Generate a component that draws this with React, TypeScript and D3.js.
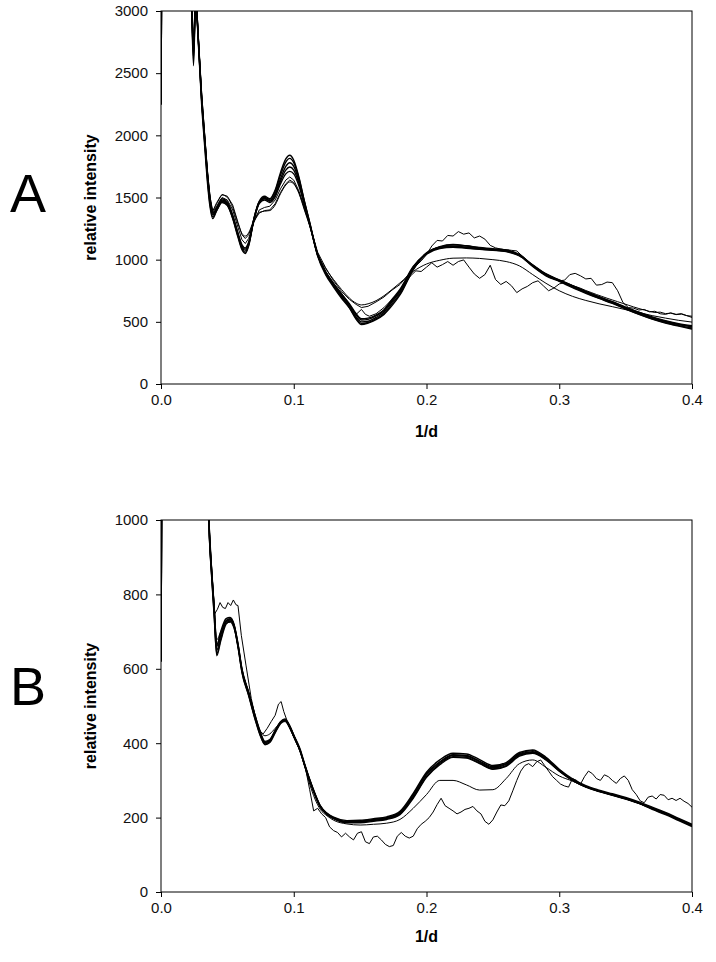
import { useEffect, useRef } from "react";
import * as d3 from "d3";

// ---------- panel A (top) ----------
const ticksA = [0, 500, 1000, 1500, 2000, 2500, 3000];
const xTicks = [0, 0.1, 0.2, 0.3, 0.4];

const gridA = [
  0, 0.001, 0.002, 0.022, 0.0245, 0.0262, 0.027,
  0.0306, 0.033, 0.035, 0.037, 0.039,
  0.042, 0.046, 0.05, 0.054, 0.058,
  0.061, 0.0635, 0.066, 0.07, 0.074,
  0.078, 0.082, 0.086, 0.09, 0.094,
  0.097, 0.1, 0.104, 0.108, 0.112,
  0.118, 0.124, 0.13, 0.136, 0.142,
  0.147, 0.151, 0.156, 0.162, 0.168,
  0.174, 0.18, 0.19, 0.2, 0.21,
  0.22, 0.23, 0.24, 0.25, 0.26,
  0.27, 0.28, 0.29, 0.3, 0.31,
  0.32, 0.33, 0.34, 0.35, 0.36,
  0.37, 0.38, 0.39, 0.4,
];

const a1 = [
  2250, 4500, 7000, 3500, 2560, 3150, 2980,
  2250, 1900, 1620, 1420, 1330,
  1400, 1470, 1440, 1330, 1180,
  1080, 1050, 1110, 1330, 1470,
  1510, 1490, 1560, 1700, 1810,
  1840, 1800, 1660, 1470, 1300,
  1030, 880, 780, 690, 610,
  520, 478, 490, 518, 560,
  630, 716, 918, 1050, 1100,
  1119, 1110, 1095, 1085, 1079,
  1040, 950, 877, 830, 780,
  735, 690, 652, 605, 562,
  525, 495, 470, 450,
];
const a2 = [
  2250, 4500, 7000, 3500, 2620, 3150, 2990,
  2280, 1930, 1650, 1440, 1345,
  1395, 1460, 1435, 1335, 1190,
  1090, 1060, 1115, 1320, 1460,
  1500, 1485, 1550, 1680, 1785,
  1815, 1780, 1650, 1470, 1300,
  1040, 890, 790, 700, 615,
  530, 488, 495, 525, 565,
  645, 725, 925, 1050, 1105,
  1122, 1112, 1098, 1088, 1075,
  1035, 945, 870, 825, 775,
  730, 688, 648, 602, 560,
  522, 490, 465, 442,
];
const a3 = [
  2250, 4500, 7000, 3500, 2680, 3150, 3000,
  2300, 1950, 1670, 1460, 1360,
  1400, 1470, 1445, 1345, 1200,
  1100, 1075, 1125, 1330, 1465,
  1495, 1475, 1530, 1650, 1750,
  1780, 1750, 1630, 1460, 1290,
  1040, 895, 795, 705, 625,
  540, 500, 505, 535, 578,
  660, 740, 935, 1055, 1100,
  1110, 1100, 1090, 1080, 1070,
  1040, 955, 880, 832, 785,
  740, 695, 655, 610, 568,
  530, 500, 478, 460,
];
const a4 = [
  2250, 4500, 7000, 3500, 2720, 3150, 3000,
  2320, 1970, 1690, 1480, 1375,
  1410, 1480, 1455, 1350, 1205,
  1110, 1085, 1130, 1325, 1460,
  1490, 1470, 1520, 1630, 1720,
  1745, 1720, 1610, 1450, 1285,
  1035, 900, 800, 715, 635,
  555, 515, 520, 548, 590,
  670, 750, 940, 1050, 1095,
  1105, 1095, 1085, 1078, 1068,
  1035, 958, 885, 835, 790,
  742, 700, 660, 615, 575,
  535, 505, 480, 462,
];
const a5 = [
  2250, 4500, 7000, 3500, 2650, 3150, 3000,
  2290, 1960, 1680, 1475, 1370,
  1420, 1490, 1465, 1360, 1215,
  1120, 1095, 1140, 1320, 1450,
  1480, 1460, 1505, 1610, 1690,
  1710, 1690, 1590, 1440, 1285,
  1040, 905, 810, 725, 645,
  565, 525, 530, 555, 598,
  680, 760, 945, 1045, 1090,
  1100, 1092, 1083, 1075, 1065,
  1030, 955, 885, 838, 792,
  745, 702, 662, 618, 578,
  540, 510, 485, 468,
];
const aLight = [
  2250, 4500, 7000, 3500, 2750, 3150, 3000,
  2350, 2000, 1720, 1510, 1400,
  1450, 1520, 1500, 1420, 1290,
  1210, 1190, 1215, 1320, 1380,
  1390, 1395, 1440, 1530, 1600,
  1625, 1610, 1530, 1400, 1270,
  1050, 930, 840, 760, 690,
  650, 636, 645, 670, 710,
  760, 813, 905, 965, 995,
  1012, 1014, 1010, 1000, 985,
  950, 880, 810, 750, 705,
  672, 645, 622, 598, 575,
  550, 530, 512, 498,
];

const aNoisyHigh: [number, number][] = [
  [0, 2250], [0.001, 4500], [0.002, 7000], [0.022, 3500], [0.0245, 2700], [0.0262, 3150], [0.027, 3000],
  [0.0306, 2330], [0.033, 1990], [0.035, 1710], [0.037, 1500], [0.039, 1390], [0.042, 1460], [0.046, 1525],
  [0.05, 1510], [0.054, 1440], [0.058, 1300], [0.061, 1200], [0.0635, 1170], [0.066, 1200], [0.07, 1310],
  [0.074, 1375], [0.078, 1395], [0.082, 1400], [0.086, 1450], [0.09, 1540], [0.094, 1610], [0.097, 1640],
  [0.1, 1620], [0.104, 1540], [0.108, 1410], [0.112, 1280], [0.118, 1060], [0.124, 935], [0.13, 830],
  [0.136, 745], [0.142, 680], [0.147, 640], [0.151, 615], [0.156, 625], [0.162, 660], [0.168, 700],
  [0.174, 755], [0.18, 800], [0.184, 850], [0.188, 900], [0.192, 950], [0.196, 990], [0.2, 1040],
  [0.204, 1110], [0.208, 1155], [0.212, 1150], [0.216, 1195], [0.22, 1190], [0.224, 1226], [0.228, 1205],
  [0.232, 1215], [0.236, 1175], [0.24, 1190], [0.244, 1165], [0.248, 1115], [0.252, 1095], [0.256, 1085],
  [0.26, 1080], [0.264, 1075], [0.268, 1070], [0.272, 1030], [0.276, 990], [0.28, 950], [0.284, 915],
  [0.288, 885], [0.292, 860], [0.296, 845], [0.3, 830], [0.304, 835], [0.308, 880], [0.312, 890],
  [0.316, 870], [0.32, 845], [0.324, 850], [0.328, 795], [0.332, 800], [0.336, 820], [0.34, 815],
  [0.344, 750], [0.348, 655], [0.352, 615], [0.356, 610], [0.36, 595], [0.364, 600], [0.368, 580],
  [0.372, 585], [0.376, 565], [0.38, 560], [0.384, 572], [0.388, 560], [0.392, 566], [0.396, 550], [0.4, 535],
];

const aNoisyLow: [number, number][] = [
  [0, 2250], [0.001, 4500], [0.002, 7000], [0.022, 3500], [0.0245, 2600], [0.0262, 3150], [0.027, 2990],
  [0.0306, 2300], [0.033, 1960], [0.035, 1690], [0.037, 1480], [0.039, 1380], [0.042, 1430], [0.046, 1500],
  [0.05, 1480], [0.054, 1400], [0.058, 1260], [0.061, 1160], [0.0635, 1130], [0.066, 1170], [0.07, 1300],
  [0.074, 1400], [0.078, 1420], [0.082, 1430], [0.086, 1480], [0.09, 1570], [0.094, 1640], [0.097, 1665],
  [0.1, 1640], [0.104, 1550], [0.108, 1420], [0.112, 1285], [0.118, 1045], [0.124, 905], [0.13, 810],
  [0.136, 730], [0.142, 640], [0.147, 560], [0.151, 600], [0.154, 560], [0.157, 545], [0.162, 565],
  [0.168, 615], [0.174, 680], [0.18, 750], [0.184, 810], [0.188, 870], [0.192, 910], [0.196, 905],
  [0.2, 940], [0.204, 975], [0.208, 940], [0.212, 960], [0.216, 985], [0.22, 955], [0.224, 985],
  [0.228, 998], [0.232, 940], [0.236, 885], [0.24, 850], [0.244, 880], [0.248, 955], [0.252, 840],
  [0.256, 800], [0.26, 825], [0.264, 790], [0.268, 735], [0.272, 765], [0.276, 785], [0.28, 815],
  [0.284, 830], [0.288, 790], [0.292, 750], [0.296, 772], [0.3, 805], [0.304, 815], [0.308, 800],
  [0.312, 785], [0.316, 770], [0.32, 752], [0.324, 736], [0.328, 720], [0.332, 705], [0.336, 690],
  [0.34, 676], [0.344, 662], [0.348, 648], [0.352, 634], [0.356, 620], [0.36, 607], [0.364, 595],
  [0.368, 584], [0.372, 575], [0.376, 578], [0.38, 566], [0.384, 570], [0.388, 558], [0.392, 562],
  [0.396, 550], [0.4, 545],
];

// ---------- panel B (bottom) ----------
const ticksB = [0, 200, 400, 600, 800, 1000];

const gridB = [
  0, 0.001, 0.002, 0.034, 0.0365,
  0.038, 0.04, 0.042, 0.045, 0.049,
  0.052, 0.055, 0.058, 0.061, 0.066,
  0.0708, 0.075, 0.0783, 0.082, 0.086,
  0.09, 0.0934, 0.097, 0.1, 0.1047,
  0.108, 0.112, 0.116, 0.12, 0.125,
  0.13, 0.14, 0.15, 0.16, 0.17,
  0.18, 0.19, 0.2, 0.21, 0.22,
  0.23, 0.24, 0.25, 0.26, 0.27,
  0.28, 0.29, 0.3, 0.31, 0.32,
  0.33, 0.34, 0.35, 0.36, 0.37,
  0.38, 0.39, 0.4,
];

const b1 = [
  620, 1500, 2000, 1300, 950,
  860, 750, 640, 680, 725,
  731, 715, 660, 592, 530,
  467, 420, 398, 405, 430,
  455, 462, 445, 420, 382,
  345, 301, 262, 229, 210,
  199, 189, 190, 193, 198,
  212, 258, 315, 348, 367,
  365, 350, 334, 343, 370,
  377, 358, 328, 302, 284,
  272, 262, 252, 240, 226,
  212, 196, 180,
];
const b2 = [
  620, 1500, 2000, 1300, 960,
  870, 765, 650, 690, 730,
  735, 718, 665, 598, 535,
  472, 425, 402, 408, 432,
  456, 462, 442, 418, 380,
  342, 298, 260, 228, 208,
  197, 186, 186, 190, 195,
  208, 252, 308, 342, 362,
  360, 345, 330, 338, 365,
  373, 355, 325, 300, 282,
  270, 260, 250, 238, 222,
  208, 192, 176,
];
const b3 = [
  620, 1500, 2000, 1300, 955,
  865, 760, 660, 700, 735,
  738, 720, 668, 600, 538,
  475, 428, 405, 410, 435,
  458, 465, 447, 422, 385,
  347, 303, 265, 232, 212,
  201, 192, 193, 197, 202,
  217, 265, 322, 355, 373,
  371, 356, 340, 348, 375,
  382, 362, 330, 304, 286,
  274, 264, 254, 242, 228,
  214, 198, 182,
];
const b4 = [
  620, 1500, 2000, 1300, 950,
  855, 745, 635, 675, 720,
  728, 712, 658, 590, 528,
  465, 418, 396, 402, 428,
  452, 460, 442, 418, 380,
  343, 300, 262, 230, 211,
  200, 190, 191, 195, 200,
  214, 262, 318, 350, 369,
  367, 352, 337, 345, 372,
  380, 360, 327, 301, 283,
  271, 261, 251, 239, 224,
  210, 194, 178,
];
const b5 = [
  620, 1500, 2000, 1300, 965,
  875, 770, 665, 695, 728,
  733, 716, 664, 596, 533,
  470, 424, 402, 408, 432,
  455, 462, 443, 419, 381,
  344, 302, 263, 231, 210,
  198, 188, 189, 192, 197,
  210, 255, 310, 345, 364,
  362, 347, 331, 340, 368,
  375, 356, 326, 300, 283,
  271, 261, 251, 239, 225,
  211, 195, 179,
];
const bMid = [
  620, 1500, 2000, 1300, 970,
  880, 775, 678, 700, 722,
  725, 708, 660, 598, 538,
  478, 432, 420, 425, 440,
  455, 458, 440, 416, 378,
  340, 290, 250, 222, 205,
  193, 183, 180, 182, 185,
  195, 225, 262, 300, 300,
  288, 274, 275, 305, 345,
  355, 335, 312, 298, 282,
  270, 260, 250, 238, 224,
  210, 194, 178,
];

const bNoisy: [number, number][] = [
  [0, 620], [0.001, 1500], [0.002, 2000], [0.034, 1300], [0.0365, 980], [0.0385, 850], [0.0405, 748],
  [0.0425, 760], [0.0445, 778], [0.0465, 765], [0.0485, 762], [0.0505, 778], [0.0525, 770], [0.0545, 785],
  [0.0565, 772], [0.058, 770], [0.0605, 690], [0.064, 610], [0.068, 520], [0.072, 455], [0.0745, 432],
  [0.077, 425], [0.08, 440], [0.083, 458], [0.086, 475], [0.0885, 505], [0.0905, 512], [0.0925, 485],
  [0.095, 460], [0.098, 440], [0.101, 415], [0.105, 380], [0.109, 330], [0.112, 275], [0.115, 218],
  [0.118, 225], [0.121, 210], [0.124, 200], [0.127, 175], [0.13, 165], [0.133, 160], [0.136, 148],
  [0.139, 158], [0.142, 148], [0.145, 140], [0.148, 158], [0.151, 162], [0.154, 135], [0.157, 130],
  [0.16, 148], [0.163, 150], [0.166, 140], [0.169, 128], [0.172, 122], [0.175, 125], [0.178, 150],
  [0.181, 160], [0.184, 150], [0.187, 145], [0.19, 150], [0.193, 170], [0.196, 182], [0.199, 190],
  [0.202, 200], [0.205, 215], [0.208, 235], [0.211, 252], [0.214, 232], [0.217, 225], [0.22, 218],
  [0.223, 210], [0.226, 215], [0.229, 222], [0.232, 225], [0.235, 230], [0.238, 218], [0.241, 210],
  [0.244, 190], [0.247, 182], [0.25, 194], [0.253, 215], [0.256, 234], [0.259, 232], [0.262, 245],
  [0.265, 272], [0.268, 300], [0.271, 325], [0.274, 340], [0.277, 345], [0.28, 337], [0.283, 350],
  [0.286, 355], [0.289, 340], [0.292, 325], [0.295, 310], [0.298, 300], [0.301, 290], [0.304, 285],
  [0.307, 282], [0.31, 305], [0.313, 300], [0.316, 290], [0.319, 310], [0.322, 325], [0.325, 318],
  [0.328, 305], [0.331, 300], [0.334, 315], [0.337, 310], [0.34, 300], [0.343, 292], [0.346, 305],
  [0.349, 312], [0.352, 300], [0.355, 275], [0.358, 262], [0.361, 245], [0.364, 240], [0.367, 255],
  [0.37, 258], [0.373, 250], [0.376, 262], [0.379, 260], [0.382, 248], [0.385, 252], [0.388, 246],
  [0.391, 252], [0.394, 244], [0.397, 238], [0.4, 228],
];

const FONT = "'Liberation Sans', Arial, sans-serif";

const zip = (xs: number[], ys: number[]): [number, number][] =>
  ys.map((v, i) => [xs[i], v] as [number, number]).filter(d => d[0] !== undefined);

const panels = [
  {
    key: "A",
    top: 11,
    bottom: 384,
    yMax: 3000,
    yTicks: ticksA,
    smooth: [aLight, a5, a4, a3, a2, a1].map(s => zip(gridA, s)),
    noisy: [aNoisyHigh, aNoisyLow],
    letterY: 212,
    xLabelY: 437,
  },
  {
    key: "B",
    top: 520,
    bottom: 892,
    yMax: 1000,
    yTicks: ticksB,
    smooth: [bMid, b5, b4, b3, b2, b1].map(s => zip(gridB, s)),
    noisy: [bNoisy],
    letterY: 705,
    xLabelY: 942,
  },
];

export default function App() {
  const svgRef = useRef<SVGSVGElement>(null);

  useEffect(() => {
    const svg = d3.select(svgRef.current);
    svg.selectAll("*").remove();

    const left = 161;
    const right = 692;
    const x = d3.scaleLinear().domain([0, 0.4]).range([left, right]);

    panels.forEach(p => {
      const y = d3.scaleLinear().domain([0, p.yMax]).range([p.bottom, p.top]);
      const clipId = `clip-${p.key}`;

      svg.append("clipPath").attr("id", clipId)
        .append("rect")
        .attr("x", left).attr("y", p.top)
        .attr("width", right - left).attr("height", p.bottom - p.top);

      const plot = svg.append("g").attr("clip-path", `url(#${clipId})`);

      const smoothLine = d3.line<[number, number]>()
        .x(d => x(d[0]))
        .y(d => y(d[1]))
        .curve(d3.curveMonotoneX);

      const roughLine = d3.line<[number, number]>()
        .x(d => x(d[0]))
        .y(d => y(d[1]));

      plot.selectAll("path.noisy")
        .data(p.noisy)
        .enter()
        .append("path")
        .attr("class", "noisy")
        .attr("fill", "none")
        .attr("stroke", "#000")
        .attr("stroke-width", 1)
        .attr("stroke-linejoin", "round")
        .attr("d", d => roughLine(d));

      plot.selectAll("path.smooth")
        .data(p.smooth)
        .enter()
        .append("path")
        .attr("class", "smooth")
        .attr("fill", "none")
        .attr("stroke", "#000")
        .attr("stroke-width", (d, i) => (i === 0 ? 1 : 1.4))
        .attr("d", d => smoothLine(d));

      // frame
      svg.append("rect")
        .attr("x", left).attr("y", p.top)
        .attr("width", right - left).attr("height", p.bottom - p.top)
        .attr("fill", "none").attr("stroke", "#000").attr("stroke-width", 1);

      const yAxis = svg.append("g")
        .attr("transform", `translate(${left},0)`)
        .call(d3.axisLeft(y).tickValues(p.yTicks).tickSize(5).tickPadding(8).tickFormat(d3.format("d")));
      yAxis.select(".domain").remove();
      yAxis.selectAll("text").attr("font-family", FONT).attr("font-size", 15).attr("fill", "#111");
      yAxis.selectAll("line").attr("stroke", "#000");

      const xAxis = svg.append("g")
        .attr("transform", `translate(0,${p.bottom})`)
        .call(d3.axisBottom(x).tickValues(xTicks).tickSize(5).tickPadding(5).tickFormat(d3.format(".1f")));
      xAxis.select(".domain").remove();
      xAxis.selectAll("text").attr("font-family", FONT).attr("font-size", 15).attr("fill", "#111");
      xAxis.selectAll("line").attr("stroke", "#000");

      svg.append("text")
        .attr("transform", `translate(96,${(p.top + p.bottom) / 2}) rotate(-90)`)
        .attr("text-anchor", "middle")
        .attr("font-family", FONT)
        .attr("font-weight", "bold")
        .attr("font-size", 16)
        .text("relative intensity");

      svg.append("text")
        .attr("x", (left + right) / 2)
        .attr("y", p.xLabelY)
        .attr("text-anchor", "middle")
        .attr("font-family", FONT)
        .attr("font-weight", "bold")
        .attr("font-size", 16)
        .text("1/d");

      svg.append("text")
        .attr("x", 28)
        .attr("y", p.letterY)
        .attr("text-anchor", "middle")
        .attr("font-family", FONT)
        .attr("font-size", 54)
        .text(p.key);
    });
  }, []);

  return (
    <svg
      ref={svgRef}
      width={716}
      height={962}
      style={{ position: "absolute", left: 0, top: 0, background: "#fff" }}
    />
  );
}
